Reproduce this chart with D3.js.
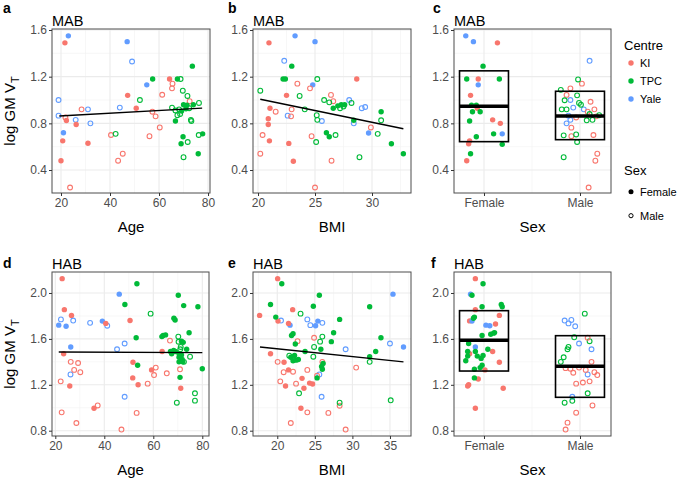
<!DOCTYPE html>
<html><head><meta charset="utf-8">
<script src="https://cdn.jsdelivr.net/npm/d3@7"></script>
<style>body{margin:0;background:#fff}svg{font-family:"Liberation Sans",Arial,Helvetica,sans-serif}</style>
</head><body><svg id="chart" width="677" height="478"></svg>
<script>
// ---------- DATA ----------
const centreNames = ["KI", "TPC", "Yale"];
const centreKeys = ["K", "T", "Y"];
const sexNames = ["Female", "Male"];
const sexKeys = ["F", "M"];

// rows: [x, log GM VT, centre, sex]
const mabAge = [
 [23,1.55,"Y","F"],[47,1.50,"Y","F"],[49,1.33,"Y","M"],[55,1.13,"Y","F"],[19,1.0,"Y","M"],[44,0.935,"Y","M"],[31,0.92,"Y","M"],[19,0.866,"Y","M"],[26,0.83,"Y","M"],[32,0.80,"Y","M"],[21,0.72,"Y","F"],
 [21.6,1.49,"K","F"],[64.3,1.18,"K","F"],[65.5,1.14,"K","M"],[65.3,1.10,"K","M"],[47.2,1.04,"K","F"],[61.3,1.045,"K","M"],[72.5,0.99,"K","M"],[28.4,0.92,"K","M"],[50.7,0.93,"K","F"],[21.8,0.85,"K","M"],[22.2,0.825,"K","F"],[26.2,0.79,"K","F"],[57.3,0.90,"K","M"],[58.6,0.86,"K","M"],[60.3,0.765,"K","M"],[40.4,0.70,"K","M"],[56.1,0.69,"K","M"],[20.7,0.65,"K","F"],[31,0.63,"K","F"],[45.2,0.54,"K","M"],[43.3,0.48,"K","M"],[20,0.48,"K","F"],[23.7,0.25,"K","M"],
 [73.6,1.29,"T","F"],[57.4,1.18,"T","F"],[67.5,1.18,"T","F"],[70,0.96,"T","F"],[71.4,0.955,"T","F"],[74,0.96,"T","F"],[71,0.925,"T","F"],[69.2,0.905,"T","F"],[66.7,0.82,"T","F"],[69.8,0.685,"T","F"],[77.8,0.71,"T","F"],[69,0.625,"T","F"],[76,0.54,"T","F"],
 [68.8,1.18,"T","M"],[52.2,1.0,"T","M"],[69.7,1.08,"T","M"],[71.6,1.035,"T","M"],[76.3,0.975,"T","M"],[65.3,0.935,"T","M"],[66.7,0.91,"T","M"],[68.2,0.92,"T","M"],[72.3,0.93,"T","M"],[68.6,0.88,"T","M"],[67.5,0.87,"T","M"],[73,0.83,"T","M"],[73.2,0.82,"T","M"],[42.3,0.71,"T","M"],[76.2,0.70,"T","M"],[71.7,0.64,"T","M"],[70,0.51,"T","M"]
];
const mabBmi = [
 [23.25,1.55,"Y","F"],[25.0,1.50,"Y","F"],[24.8,1.13,"Y","F"],[29.7,0.717,"Y","F"],
 [22.3,1.336,"Y","M"],[28.0,1.0,"Y","M"],[22.6,0.866,"Y","M"],[25.6,0.82,"Y","M"],[28.4,0.80,"Y","M"],[29.1,0.93,"Y","M"],[29.4,0.94,"Y","M"],
 [20.96,1.49,"K","F"],[28.66,1.18,"K","F"],[22.5,1.04,"K","F"],[21.05,0.93,"K","F"],[20.9,0.84,"K","F"],[20.9,0.79,"K","F"],[21,0.65,"K","F"],[22.7,0.628,"K","F"],[23.1,0.475,"K","F"],
 [23.45,1.14,"K","M"],[24.56,1.10,"K","M"],[26.4,1.044,"K","M"],[26.6,0.99,"K","M"],[22.95,0.92,"K","M"],[21.55,0.90,"K","M"],[22.9,0.86,"K","M"],[20.4,0.70,"K","M"],[24.7,0.69,"K","M"],[29.9,0.765,"K","M"],[20.2,0.54,"K","M"],[26.45,0.48,"K","M"],[25,0.25,"K","M"],
 [22.96,1.29,"T","F"],[22.2,1.18,"T","F"],[22.4,1.18,"T","F"],[26.6,0.93,"T","F"],[27.0,0.95,"T","F"],[27.3,0.96,"T","F"],[27.6,0.96,"T","F"],[28.4,0.826,"T","F"],[26.0,0.72,"T","F"],[26.25,0.685,"T","F"],[30.8,0.90,"T","F"],[31.7,0.625,"T","F"],[32.75,0.54,"T","F"],
 [25.2,1.18,"T","M"],[20.2,1.08,"T","M"],[23.65,1.035,"T","M"],[25.8,1.0,"T","M"],[26.25,0.98,"T","M"],[24.1,0.92,"T","M"],[25.15,0.87,"T","M"],[25.2,0.83,"T","M"],[26.8,0.70,"T","M"],[25.1,0.64,"T","M"],[28.9,0.51,"T","M"],[30.8,0.826,"T","M"],[30.5,0.71,"T","M"],[27.2,0.93,"T","M"],[27.5,0.945,"T","M"],[28.2,0.975,"T","M"]
];
// x = jittered group position (1 = Female, 2 = Male)
const mabSex = [
 [0.81,1.55,"Y","F"],[0.89,1.50,"Y","F"],[0.94,1.13,"Y","F"],[1.19,0.71,"Y","F"],
 [1.14,1.49,"K","F"],[0.94,1.18,"K","F"],[0.86,1.04,"K","F"],[0.93,0.93,"K","F"],[1.09,0.83,"K","F"],[1.17,0.80,"K","F"],[0.85,0.65,"K","F"],[0.84,0.625,"K","F"],[0.82,0.48,"K","F"],
 [0.99,1.29,"T","F"],[0.82,1.18,"T","F"],[1.16,1.18,"T","F"],[0.87,0.955,"T","F"],[0.92,0.955,"T","F"],[0.88,0.90,"T","F"],[0.96,0.90,"T","F"],[0.85,0.82,"T","F"],[0.92,0.685,"T","F"],[1.10,0.71,"T","F"],[1.19,0.62,"T","F"],[0.86,0.54,"T","F"],
 [2.10,1.336,"Y","M"],[1.90,1.0,"Y","M"],[1.93,0.935,"Y","M"],[2.04,0.92,"Y","M"],[1.88,0.866,"Y","M"],[1.90,0.83,"Y","M"],[1.86,0.80,"Y","M"],
 [2.02,1.14,"K","M"],[1.90,1.10,"K","M"],[1.86,1.044,"K","M"],[2.11,0.985,"K","M"],[2.15,0.92,"K","M"],[2.08,0.90,"K","M"],[2.17,0.86,"K","M"],[1.96,0.85,"K","M"],[1.91,0.763,"K","M"],[2.14,0.70,"K","M"],[1.91,0.69,"K","M"],[2.18,0.54,"K","M"],[2.16,0.48,"K","M"],[2.09,0.25,"K","M"],
 [1.98,1.176,"T","M"],[1.80,1.087,"T","M"],[1.97,1.04,"T","M"],[1.84,0.998,"T","M"],[1.99,0.975,"T","M"],[2.01,0.96,"T","M"],[1.81,0.92,"T","M"],[1.86,0.92,"T","M"],[2.07,0.826,"T","M"],[1.96,0.705,"T","M"],[1.83,0.697,"T","M"],[1.97,0.64,"T","M"],[1.83,0.51,"T","M"],[2.10,0.88,"T","M"],[2.20,0.87,"T","M"],[2.13,0.83,"T","M"]
];
const habAge = [
 [46.1,1.99,"Y","F"],[21.4,1.72,"Y","F"],[24.4,1.71,"Y","F"],[39.2,1.755,"Y","F"],[26.3,1.53,"Y","F"],
 [22.3,1.77,"Y","M"],[27.3,1.76,"Y","M"],[34.2,1.74,"Y","M"],[41.2,1.715,"Y","M"],[48.3,1.56,"Y","M"],[45.2,1.51,"Y","M"],[26.2,1.29,"Y","M"],[48.3,1.096,"Y","M"],
 [22.8,2.125,"K","F"],[23.7,1.855,"K","F"],[26.6,1.805,"K","F"],[40.6,1.735,"K","F"],[50.5,1.76,"K","F"],[23.4,1.47,"K","F"],[25.9,1.19,"K","F"],[51.7,1.396,"K","F"],[51.6,1.26,"K","F"],[53.8,1.20,"K","F"],[63.6,1.49,"K","F"],[59.3,1.33,"K","F"],[35.8,0.995,"K","F"],[71.2,1.17,"K","F"],
 [26.3,1.40,"K","M"],[29.3,1.39,"K","M"],[27.7,1.33,"K","M"],[30.2,1.31,"K","M"],[22.2,1.23,"K","M"],[61,1.35,"K","M"],[60.3,1.285,"K","M"],[57.7,1.21,"K","M"],[65.5,1.30,"K","M"],[66.8,1.585,"K","M"],[70.9,1.335,"K","M"],[37.3,1.02,"K","M"],[22.6,0.96,"K","M"],[28.6,0.867,"K","M"],[47,0.81,"K","M"],[53.2,0.955,"K","M"],
 [53.3,2.08,"T","F"],[48.4,1.90,"T","F"],[70.2,1.98,"T","F"],[72.4,1.89,"T","F"],[78.2,1.88,"T","F"],[68.9,1.765,"T","F"],[68.4,1.78,"T","F"],[53,1.61,"T","F"],[53.6,1.37,"T","F"],[74.6,1.654,"T","F"],[64,1.63,"T","F"],[65,1.635,"T","F"],[63.5,1.62,"T","F"],[71.5,1.58,"T","F"],[72.2,1.57,"T","F"],[73.6,1.51,"T","F"],[67,1.49,"T","F"],[69,1.49,"T","F"],[70.5,1.47,"T","F"],[71.5,1.46,"T","F"],[70.5,1.44,"T","F"],[71.8,1.42,"T","F"],[70.5,1.40,"T","F"],[72,1.40,"T","F"],[70.9,1.265,"T","F"],[80,1.34,"T","F"],[67.5,1.47,"T","F"],[68.3,1.50,"T","F"],
 [58.9,1.82,"T","M"],[70.2,1.62,"T","M"],[70.3,1.575,"T","M"],[71.2,1.53,"T","M"],[71,1.51,"T","M"],[75,1.445,"T","M"],[72.5,1.40,"T","M"],[77,1.126,"T","M"],[77,1.062,"T","M"],[69.6,1.044,"T","M"]
];
const habBmi = [
 [21.7,1.72,"Y","F"],[25.1,1.715,"Y","F"],[25.4,1.755,"Y","F"],[35.4,1.99,"Y","F"],[36.8,1.53,"Y","F"],
 [20.5,1.76,"Y","M"],[24.0,1.77,"Y","M"],[24.4,1.72,"Y","M"],[26.0,1.74,"Y","M"],[29.1,1.51,"Y","M"],[35,1.56,"Y","M"],[25.6,1.29,"Y","M"],[25.9,1.096,"Y","M"],
 [20.05,2.125,"K","F"],[17.65,1.805,"K","F"],[22.05,1.855,"K","F"],[20.1,1.755,"K","F"],[21.5,1.735,"K","F"],[19.1,1.47,"K","F"],[20.9,1.396,"K","F"],[21.5,1.33,"K","F"],[23.3,1.256,"K","F"],[21.1,1.19,"K","F"],[23.55,1.17,"K","F"],[24.3,1.215,"K","F"],[24.7,1.207,"K","F"],[23.15,0.995,"K","F"],
 [22.7,1.58,"K","M"],[24.9,1.61,"K","M"],[20.05,1.40,"K","M"],[20.85,1.31,"K","M"],[22.1,1.314,"K","M"],[24.0,1.33,"K","M"],[20.4,1.23,"K","M"],[24,0.96,"K","M"],[21.8,0.867,"K","M"],[26.8,0.955,"K","M"],[29.1,0.81,"K","M"],[28.3,1.018,"K","M"],[25.3,1.28,"K","M"],[26.0,1.40,"K","M"],[30.5,1.35,"K","M"],[22.5,1.21,"K","M"],
 [20.6,2.08,"T","F"],[25.6,1.98,"T","F"],[19.1,1.90,"T","F"],[24.8,1.884,"T","F"],[19.8,1.79,"T","F"],[28.3,1.77,"T","F"],[21.9,1.63,"T","F"],[22.1,1.645,"T","F"],[22.4,1.555,"T","F"],[25.8,1.51,"T","F"],[27.5,1.654,"T","F"],[27.2,1.576,"T","F"],[23.7,1.49,"T","F"],[21.8,1.44,"T","F"],[22.1,1.41,"T","F"],[22.5,1.415,"T","F"],[22.8,1.42,"T","F"],[25.3,1.26,"T","F"],[25.9,1.36,"T","F"],[26,1.335,"T","F"],[26.1,1.385,"T","F"],[32.3,1.445,"T","F"],[32.3,1.88,"T","F"],[33.8,1.61,"T","F"],[33.1,1.49,"T","F"],[22.3,1.455,"T","F"],
 [23.1,1.82,"T","M"],[26.0,1.62,"T","M"],[25.7,1.576,"T","M"],[24.9,1.53,"T","M"],[21.6,1.454,"T","M"],[22.9,1.126,"T","M"],[28.3,1.044,"T","M"],[32.3,1.40,"T","M"],[35.1,1.065,"T","M"],[24.8,1.445,"T","M"]
];
const habSex = [
 [0.91,2.125,"K","F"],[0.91,1.855,"K","F"],[1.16,1.805,"K","F"],[0.85,1.757,"K","F"],[1.12,1.73,"K","F"],[1.09,1.49,"K","F"],[0.85,1.47,"K","F"],[1.16,1.396,"K","F"],[1.01,1.33,"K","F"],[0.94,1.25,"K","F"],[0.84,1.20,"K","F"],[0.83,1.19,"K","F"],[1.20,1.17,"K","F"],[0.91,0.995,"K","F"],
 [0.86,1.99,"Y","F"],[0.875,1.755,"Y","F"],[1.02,1.72,"Y","F"],[1.06,1.715,"Y","F"],[0.91,1.53,"Y","F"],
 [0.99,2.08,"T","F"],[0.875,1.98,"T","F"],[0.98,1.88,"T","F"],[1.18,1.90,"T","F"],[1.19,1.88,"T","F"],[0.90,1.79,"T","F"],[0.89,1.78,"T","F"],[1.10,1.65,"T","F"],[1.07,1.64,"T","F"],[1.11,1.655,"T","F"],[0.98,1.63,"T","F"],[0.84,1.56,"T","F"],[1.04,1.51,"T","F"],[0.83,1.49,"T","F"],[0.91,1.49,"T","F"],[0.93,1.45,"T","F"],[0.97,1.43,"T","F"],[0.99,1.455,"T","F"],[0.81,1.41,"T","F"],[0.98,1.37,"T","F"],[0.96,1.35,"T","F"],[0.90,1.335,"T","F"],[0.90,1.26,"T","F"],[0.83,1.45,"T","F"],
 [1.84,1.76,"Y","M"],[1.88,1.735,"Y","M"],[1.91,1.765,"Y","M"],[1.95,1.71,"Y","M"],[1.99,1.56,"Y","M"],[1.92,1.096,"Y","M"],[2.12,1.51,"Y","M"],[2.08,1.29,"Y","M"],
 [2.05,1.82,"T","M"],[1.94,1.614,"T","M"],[1.88,1.53,"T","M"],[1.87,1.51,"T","M"],[1.83,1.44,"T","M"],[1.80,1.40,"T","M"],[2.08,1.126,"T","M"],[1.84,1.044,"T","M"],[1.92,1.06,"T","M"],[2.10,1.58,"T","M"],
 [2.08,1.61,"K","M"],[1.85,1.345,"K","M"],[1.90,1.34,"K","M"],[1.93,1.305,"K","M"],[1.99,1.35,"K","M"],[1.96,1.21,"K","M"],[2.03,1.22,"K","M"],[1.96,0.957,"K","M"],[1.87,0.87,"K","M"],[1.85,0.81,"K","M"],[2.12,1.40,"K","M"],[2.15,1.31,"K","M"],[2.10,1.23,"K","M"],[2.13,1.02,"K","M"],[2.18,1.285,"K","M"],[2.06,1.33,"K","M"]
];
// fitted regression line end points [x, y]
const fitMabAge = [[19.3,0.863],[77.6,0.93]];
const fitMabBmi = [[20.2,1.006],[32.75,0.754]];
const fitHabAge = [[21.4,1.486],[80,1.48]];
const fitHabBmi = [[17.7,1.53],[36.8,1.40]];
// crossbars (mean ± SD) per sex
const mabBoxLow = [0.643, 0.66], mabBoxMid = [0.946, 0.863], mabBoxHigh = [1.25, 1.075];
const habBoxLow = [1.32, 1.091], habBoxMid = [1.588, 1.361], habBoxHigh = [1.846, 1.628];
// axis ticks
const ageTicks = [20, 40, 60, 80], ageMinor = [30, 50, 70];
const mabBmiTicks = [20, 25, 30], mabBmiMinor = [22.5, 27.5, 32.5];
const habBmiTicks = [20, 25, 30, 35], habBmiMinor = [17.5, 22.5, 27.5, 32.5, 37.5];
const mabYTicks = [0.4, 0.8, 1.2, 1.6], mabYMinor = [0.2, 0.6, 1.0, 1.4];
const habYTicks = [0.8, 1.2, 1.6, 2.0], habYMinor = [1.0, 1.4, 1.8];

// ---------- DRAW ----------
const svg = d3.select("#chart");
const colour = d3.scaleOrdinal().domain(centreKeys).range(["#F8766D", "#00BA38", "#619CFF"]);

const panels = [
 {letter:"a", lx:3,   title:"MAB", data:mabAge, fit:fitMabAge, px:[52,210], py:[29,193], xd:[16.33,80.8], yd:[0.203,1.6086], xt:ageTicks, xm:ageMinor, yt:mabYTicks, ym:mabYMinor, xlab:"Age"},
 {letter:"b", lx:228, title:"MAB", data:mabBmi, fit:fitMabBmi, px:[253,411], py:[29,193], xd:[19.56,33.42], yd:[0.203,1.6086], xt:mabBmiTicks, xm:mabBmiMinor, yt:mabYTicks, ym:mabYMinor, xlab:"BMI"},
 {letter:"c", lx:433, title:"MAB", data:mabSex, box:[mabBoxLow,mabBoxMid,mabBoxHigh], px:[454,611], py:[29,193], xd:[0.6875,2.323], yd:[0.203,1.6086], xt:[1,2], xm:[1.5], yt:mabYTicks, ym:mabYMinor, xlab:"Sex", cat:true},
 {letter:"d", lx:3,   title:"HAB", data:habAge, fit:fitHabAge, px:[52,209], py:[272,436], xd:[18.65,82.73], yd:[0.7538,2.183], xt:ageTicks, xm:ageMinor, yt:habYTicks, ym:habYMinor, xlab:"Age"},
 {letter:"e", lx:228, title:"HAB", data:habBmi, fit:fitHabBmi, px:[253,411], py:[272,436], xd:[16.77,37.8], yd:[0.7538,2.183], xt:habBmiTicks, xm:habBmiMinor, yt:habYTicks, ym:habYMinor, xlab:"BMI"},
 {letter:"f", lx:431, title:"HAB", data:habSex, box:[habBoxLow,habBoxMid,habBoxHigh], px:[454,611], py:[272,436], xd:[0.6875,2.323], yd:[0.7538,2.183], xt:[1,2], xm:[1.5], yt:habYTicks, ym:habYMinor, xlab:"Sex", cat:true}
];

panels.forEach(p => {
  const g = svg.append("g");
  const x = d3.scaleLinear().domain(p.xd).range(p.px);
  const y = d3.scaleLinear().domain(p.yd).range([p.py[1], p.py[0]]);
  const [x0, x1] = p.px, [y0, y1] = p.py;
  const inX = v => x(v) > x0 && x(v) < x1, inY = v => y(v) > y0 && y(v) < y1;
  // grid
  g.selectAll(".gxm").data(p.xm.filter(inX)).join("line").attr("x1", d => x(d)).attr("x2", d => x(d)).attr("y1", y0).attr("y2", y1).attr("stroke", "#f2f2f2").attr("stroke-width", 0.6);
  g.selectAll(".gym").data(p.ym.filter(inY)).join("line").attr("y1", d => y(d)).attr("y2", d => y(d)).attr("x1", x0).attr("x2", x1).attr("stroke", "#f2f2f2").attr("stroke-width", 0.6);
  g.selectAll(".gx").data(p.xt).join("line").attr("x1", d => x(d)).attr("x2", d => x(d)).attr("y1", y0).attr("y2", y1).attr("stroke", "#ebebeb").attr("stroke-width", 1.1);
  g.selectAll(".gy").data(p.yt).join("line").attr("y1", d => y(d)).attr("y2", d => y(d)).attr("x1", x0).attr("x2", x1).attr("stroke", "#ebebeb").attr("stroke-width", 1.1);
  // points
  g.selectAll(".pt").data(p.data).join("circle")
    .attr("cx", d => x(d[0])).attr("cy", d => y(d[1]))
    .attr("r", d => d[3] === "F" ? 2.7 : 2.4)
    .attr("fill", d => d[3] === "F" ? colour(d[2]) : "none")
    .attr("stroke", d => colour(d[2]))
    .attr("stroke-width", d => d[3] === "F" ? 0 : 1.1);
  // fit line
  if (p.fit) {
    g.append("path").attr("d", d3.line().x(d => x(d[0])).y(d => y(d[1]))(p.fit)).attr("stroke", "#000").attr("stroke-width", 1.4).attr("fill", "none");
  }
  // crossbars
  if (p.box) {
    const [lo, mid, hi] = p.box;
    [1, 2].forEach((gx, i) => {
      const bw = 0.255;
      g.append("rect").attr("x", x(gx - bw)).attr("y", y(hi[i])).attr("width", x(gx + bw) - x(gx - bw)).attr("height", y(lo[i]) - y(hi[i]))
        .attr("fill", "none").attr("stroke", "#000").attr("stroke-width", 1.6);
      g.append("line").attr("x1", x(gx - bw)).attr("x2", x(gx + bw)).attr("y1", y(mid[i])).attr("y2", y(mid[i])).attr("stroke", "#000").attr("stroke-width", 3.6);
    });
  }
  // border
  g.append("rect").attr("x", x0).attr("y", y0).attr("width", x1 - x0).attr("height", y1 - y0).attr("fill", "none").attr("stroke", "#4d4d4d").attr("stroke-width", 1);
  // axes
  const ax = d3.axisBottom(x).tickValues(p.xt).tickSize(3).tickPadding(2).tickFormat(p.cat ? (d => sexNames[d - 1]) : d3.format("d"));
  const ay = d3.axisLeft(y).tickValues(p.yt).tickSize(3).tickPadding(2).tickFormat(d3.format(".1f"));
  const gx = g.append("g").attr("transform", `translate(0,${y1})`).call(ax);
  const gy = g.append("g").attr("transform", `translate(${x0},0)`).call(ay);
  [gx, gy].forEach(a => {
    a.select(".domain").remove();
    a.selectAll(".tick line").attr("stroke", "#333");
    a.selectAll(".tick text").attr("fill", "#4d4d4d").style("font-size", "12px").style("font-family", "Liberation Sans, Arial, sans-serif");
  });
  // titles
  g.append("text").attr("x", (x0 + x1) / 2).attr("y", y1 + 38.5).attr("text-anchor", "middle").style("font-size", "15px").text(p.xlab);
  g.append("text").attr("x", x0).attr("y", y0 - 3).style("font-size", "14.5px").text(p.title);
  g.append("text").attr("x", p.lx).attr("y", y0 < 100 ? 13 : 268).style("font-size", "14px").style("font-weight", "bold").text(p.letter);
});

// y-axis titles
[[111], [354]].forEach(([cy]) => {
  const t = svg.append("text").attr("transform", `translate(15,${cy}) rotate(-90)`).attr("text-anchor", "middle").style("font-size", "15px");
  t.append("tspan").text("log GM V");
  t.append("tspan").attr("dy", 4).style("font-size", "11px").text("T");
});

// legends
const lg = svg.append("g");
lg.append("text").attr("x", 624).attr("y", 50).style("font-size", "13px").text("Centre");
centreNames.forEach((n, i) => {
  lg.append("circle").attr("cx", 631).attr("cy", 63 + i * 18).attr("r", 2.7).attr("fill", colour(centreKeys[i]));
  lg.append("text").attr("x", 640).attr("y", 67 + i * 18).style("font-size", "11px").text(n);
});
lg.append("text").attr("x", 624).attr("y", 175).style("font-size", "13px").text("Sex");
sexNames.forEach((n, i) => {
  lg.append("circle").attr("cx", 631).attr("cy", 191.7 + i * 24).attr("r", i === 0 ? 2.5 : 2.1)
    .attr("fill", i === 0 ? "#000" : "none").attr("stroke", "#000").attr("stroke-width", i === 0 ? 0 : 1);
  lg.append("text").attr("x", 640).attr("y", 195.5 + i * 24).style("font-size", "11px").text(n);
});
</script></body></html>
